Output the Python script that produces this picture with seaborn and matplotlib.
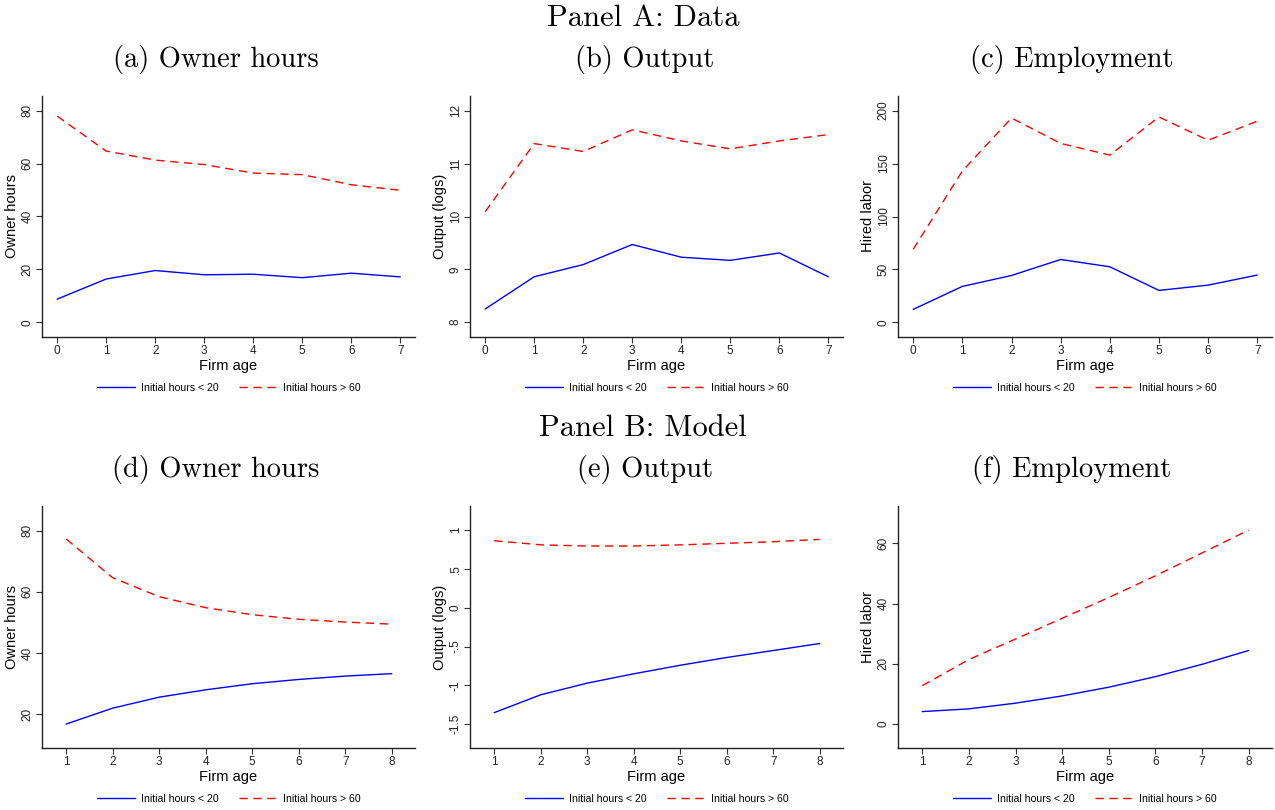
import numpy as np
import pandas as pd
import matplotlib
matplotlib.use("Agg")
import matplotlib.pyplot as plt
import seaborn as sns

# Panel A: data, firm age 0-7
age_data = [0, 1, 2, 3, 4, 5, 6, 7]
hours_low_data = [8.8, 16.4, 19.6, 18.0, 18.2, 16.9, 18.6, 17.2]
hours_high_data = [77.9, 64.7, 61.3, 59.6, 56.4, 55.8, 52.0, 49.9]
output_low_data = [8.25, 8.86, 9.09, 9.47, 9.23, 9.17, 9.31, 8.86]
output_high_data = [10.09, 11.38, 11.23, 11.64, 11.43, 11.28, 11.43, 11.55]
labor_low_data = [12.3, 34.0, 44.3, 59.4, 52.5, 30.2, 35.2, 44.7]
labor_high_data = [69, 143, 193, 169, 158, 194, 172, 190]

# Panel B: model, firm age 1-8
age_model = [1, 2, 3, 4, 5, 6, 7, 8]
hours_low_model = [16.7, 21.9, 25.5, 27.9, 29.9, 31.3, 32.4, 33.2]
hours_high_model = [77.3, 64.6, 58.4, 54.8, 52.5, 51.0, 50.1, 49.4]
output_low_model = [-1.35, -1.12, -0.97, -0.85, -0.74, -0.64, -0.55, -0.46]
output_high_model = [0.863, 0.81, 0.795, 0.795, 0.81, 0.83, 0.85, 0.88]
labor_low_model = [4.1, 5.0, 6.9, 9.3, 12.2, 15.7, 19.8, 24.4]
labor_high_model = [12.7, 21.4, 28.2, 35.1, 42.0, 49.2, 56.8, 64.4]

series_names = ["Initial hours < 20", "Initial hours > 60"]
panel_titles = ["(a) Owner hours", "(b) Output", "(c) Employment",
                "(d) Owner hours", "(e) Output", "(f) Employment"]
ylabels = ["Owner hours", "Output (logs)", "Hired labor"] * 2

yticks = [
    ([0, 20, 40, 60, 80], ["0", "20", "40", "60", "80"]),
    ([8, 9, 10, 11, 12], ["8", "9", "10", "11", "12"]),
    ([0, 50, 100, 150, 200], ["0", "50", "100", "150", "200"]),
    ([20, 40, 60, 80], ["20", "40", "60", "80"]),
    ([-1.5, -1, -0.5, 0, 0.5, 1], ["-1.5", "-1", "-.5", "0", ".5", "1"]),
    ([0, 20, 40, 60], ["0", "20", "40", "60"]),
]
ylims = [(-5.5, 85.5), (7.72, 12.28), (-13.8, 213.8),
         (8.85, 88.1), (-1.805, 1.31), (-8.0, 72.4)]

sns.set_style("ticks")
plt.rcParams["font.family"] = ["Liberation Sans", "DejaVu Sans"]

W, H = 1275, 810
fig = plt.figure(figsize=(W / 100, H / 100), dpi=100)

lefts = [42, 470, 898]
widths = [373, 373, 374]
row_top = [96, 506]
row_bot = [337, 748]

panels = [
    (age_data, hours_low_data, hours_high_data),
    (age_data, output_low_data, output_high_data),
    (age_data, labor_low_data, labor_high_data),
    (age_model, hours_low_model, hours_high_model),
    (age_model, output_low_model, output_high_model),
    (age_model, labor_low_model, labor_high_model),
]

title_x = [216, 645, 1072]
title_y = [60, 470]

for i, (x, lo, hi) in enumerate(panels):
    r, c = divmod(i, 3)
    ax = fig.add_axes([lefts[c] / W, (H - row_bot[r]) / H,
                       widths[c] / W, (row_bot[r] - row_top[r]) / H])
    sns.lineplot(x=x, y=lo, ax=ax, color="#0000ff", linewidth=1.0,
                 label=series_names[0])
    sns.lineplot(x=x, y=hi, ax=ax, color="#ff0000", linewidth=1.0,
                 linestyle=(0, (6, 4)), label=series_names[1])
    if r == 0:
        ax.set_xlim(-0.31, 7.3)
    else:
        ax.set_xlim(0.48, 8.5)
    ax.set_xticks(x)
    ax.set_xticklabels([str(v) for v in x])
    ax.set_ylim(*ylims[i])
    ax.set_yticks(yticks[i][0])
    ax.set_yticklabels(yticks[i][1], rotation=90, va="center")
    ax.set_xlabel("Firm age", fontsize=10.5, labelpad=1, color="black")
    ax.set_ylabel(ylabels[i], fontsize=10.5, labelpad=2, color="black")
    ax.tick_params(labelsize=8.5, length=4, width=0.8, colors="#333333",
                   labelcolor="#222222", pad=2)
    for s in ["left", "bottom"]:
        ax.spines[s].set_color("#222222")
        ax.spines[s].set_linewidth(1.0)
    sns.despine(ax=ax)
    leg = ax.legend(loc="center", bbox_to_anchor=(0.5, -0.21), ncol=2,
                    frameon=False, fontsize=7.6, handlelength=3.6,
                    handletextpad=0.6, columnspacing=1.9)
    for t in leg.get_texts():
        t.set_color("black")
    fig.text(title_x[c] / W, 1 - title_y[r] / H, panel_titles[i],
             fontsize=20.5, family="cmr10", ha="center", va="center",
             color="black")

fig.text(643 / W, 1 - 18 / H, "Panel A: Data", fontsize=22, family="cmr10",
         ha="center", va="center", color="black")
fig.text(643 / W, 1 - 428 / H, "Panel B: Model", fontsize=22, family="cmr10",
         ha="center", va="center", color="black")

fig.savefig("out.png", dpi=100)
